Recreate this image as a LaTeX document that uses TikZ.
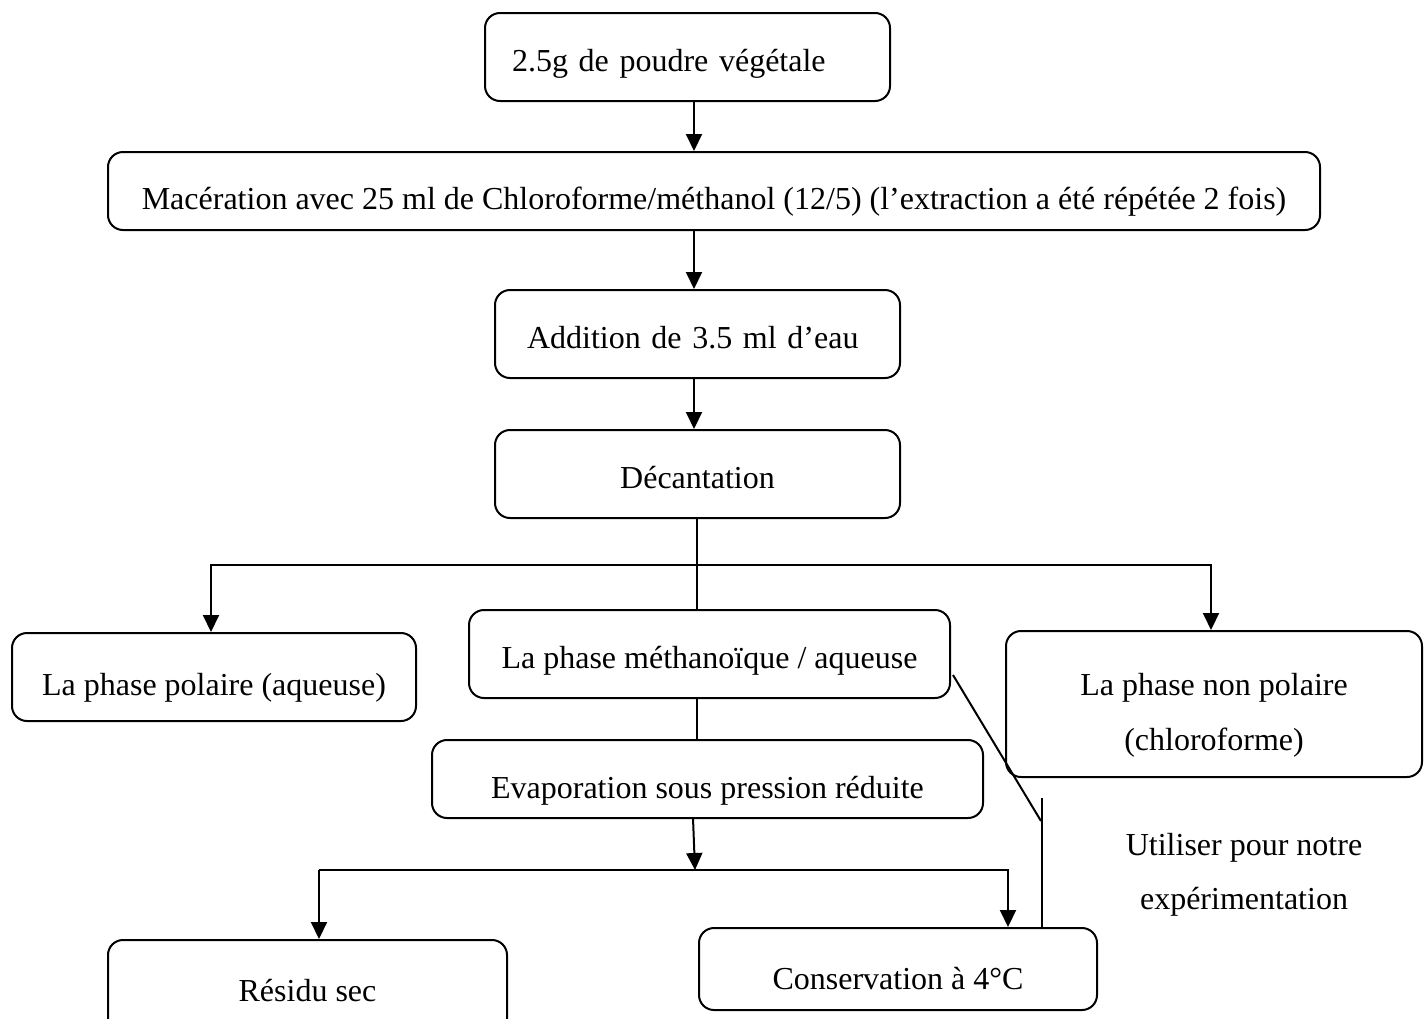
\documentclass[tikz,border=0pt]{standalone}
\usepackage{fontspec}
\setmainfont{Liberation Serif}
\usetikzlibrary{arrows.meta}
\begin{document}
\begin{tikzpicture}[x=0.5pt,y=-0.5pt,
  box/.style={draw, line width=1pt, rounded corners=7.5pt, inner sep=0pt, align=center,
    text depth=0pt, font=\fontsize{16}{27.5}\selectfont},
  lbl/.style={inner sep=0pt, align=center, font=\fontsize{16}{27}\selectfont},
  arr/.style={-{Triangle[width=8pt,length=8.5pt]}, line width=1pt},
  ln/.style={line width=1pt}]
\useasboundingbox (0,0) rectangle (1424,1018);

\node[box, minimum width=202.5pt, minimum height=44pt, text width=175.5pt, align=left, text height=14pt] (b1) at (687.5,57) {2.5g de poudre végétale};
\node[box, minimum width=606pt, minimum height=39pt, text height=18pt] (b2) at (714,191) {Macération avec 25 ml de Chloroforme/méthanol (12/5) (l’extraction a été répétée 2 fois)};
\node[box, minimum width=202.5pt, minimum height=44pt, text width=170.5pt, align=left, text height=14pt] (b3) at (697.5,334) {Addition de 3.5 ml d’eau};
\node[box, minimum width=202.5pt, minimum height=44pt, text height=14pt] (b4) at (697.5,474) {Décantation};
\node[box, minimum width=202pt, minimum height=44pt, text height=18pt] (polar) at (214,677) {La phase polaire (aqueuse)};
\node[box, minimum width=240.5pt, minimum height=44pt, text height=14pt] (meth) at (709.5,654) {La phase méthanoïque / aqueuse};
\node[box, minimum width=208pt, minimum height=73pt, text height=46pt] (nonpol) at (1214,704) {La phase non polaire\\(chloroforme)};
\node[box, minimum width=275.5pt, minimum height=39pt, text height=19pt] (evap) at (707.5,779) {Evaporation sous pression réduite};
\node[box, minimum width=199.5pt, minimum height=50pt, text height=11pt] (res) at (307.5,990) {Résidu sec};
\node[box, minimum width=199pt, minimum height=41pt, text height=20pt] (cons) at (898,969) {Conservation à 4°C};
\node[lbl] (util) at (1244,875) {Utiliser pour notre\\expérimentation};

\coordinate (cA) at (694,0);
\coordinate (cB) at (697,0);
\coordinate (j1) at (697,565);
\coordinate (xl) at (211,0);
\coordinate (xr) at (1211,0);
\coordinate (e1) at (695,870);
\coordinate (hl) at (319,870);
\coordinate (hr) at (1008,870);
\coordinate (d1) at (953,675);
\coordinate (d2) at (1041,821);
\coordinate (v1) at (1042,798);
\coordinate (v2) at (1042,928);
\coordinate (v3) at (1058,928);

\draw[arr] (cA |- b1.south) -- (cA |- b2.north);
\draw[arr] (cA |- b2.south) -- (cA |- b3.north);
\draw[arr] (cA |- b3.south) -- (cA |- b4.north);
\draw[ln] (cB |- b4.south) -- (j1) -- (cB |- meth.north);
\draw[arr] (j1) -| (xl |- polar.north);
\draw[arr] (j1) -| (xr |- nonpol.north);
\draw[ln] (cB |- meth.south) -- (cB |- evap.north);
\draw[arr] (693,818) -- (e1);
\draw[arr] (hl) -- (hr) -- (hr |- cons.north);
\draw[arr] (hl) -- (hl |- res.north);
\draw[ln] (d1) -- (d2);
\draw[ln] (v1) -- (v2) -- (v3);
\end{tikzpicture}
\end{document}
